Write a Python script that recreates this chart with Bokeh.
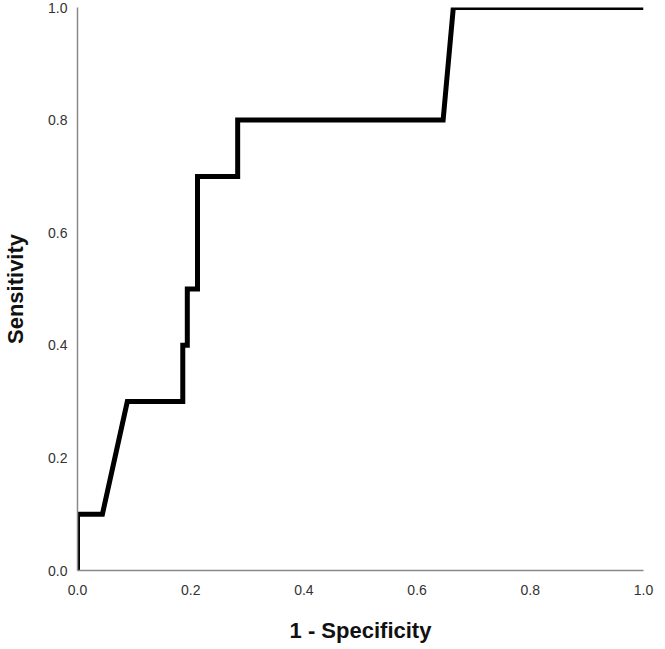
from bokeh.plotting import figure
from bokeh.models import Range1d, FixedTicker, NumeralTickFormatter
from bokeh.embed import file_html
from bokeh.resources import INLINE

fpr = [0.0, 0.0, 0.044, 0.088, 0.186, 0.186, 0.194, 0.194, 0.212, 0.212, 0.283, 0.283, 0.646, 0.664, 1.0]
tpr = [0.0, 0.1, 0.1, 0.3, 0.3, 0.4, 0.4, 0.5, 0.5, 0.7, 0.7, 0.8, 0.8, 1.0, 1.0]
ticks = [0.0, 0.2, 0.4, 0.6, 0.8, 1.0]

p = figure(frame_width=566, frame_height=563, output_backend="svg", toolbar_location=None,
           x_range=Range1d(0, 1), y_range=Range1d(0, 1.0),
           min_border_left=68, min_border_right=12, min_border_top=7, min_border_bottom=71)
p.outline_line_color = None
p.xgrid.visible = False
p.ygrid.visible = False

p.line(fpr, tpr, line_color="black", line_width=5, line_join="miter")

for ax in (p.xaxis[0], p.yaxis[0]):
    ax.ticker = FixedTicker(ticks=ticks)
    ax.formatter = NumeralTickFormatter(format="0.0")
    ax.major_tick_line_color = None
    ax.minor_tick_line_color = None
    ax.axis_line_color = "#8a8a8a"
    ax.axis_line_width = 1.5
    ax.major_label_text_font = "Liberation Sans"
    ax.major_label_text_font_size = "14px"
    ax.major_label_text_color = "#333333"
    ax.axis_label_text_font = "Liberation Sans"
    ax.axis_label_text_font_size = "22px"
    ax.axis_label_text_font_style = "bold"
    ax.axis_label_text_color = "#111111"

p.xaxis.axis_label = "1 - Specificity"
p.yaxis.axis_label = "Sensitivity"
p.xaxis.major_label_standoff = 8
p.yaxis.major_label_standoff = 4
p.xaxis.axis_label_standoff = 20
p.yaxis.axis_label_standoff = 17

open("out.html", "w").write(file_html(p, INLINE))
